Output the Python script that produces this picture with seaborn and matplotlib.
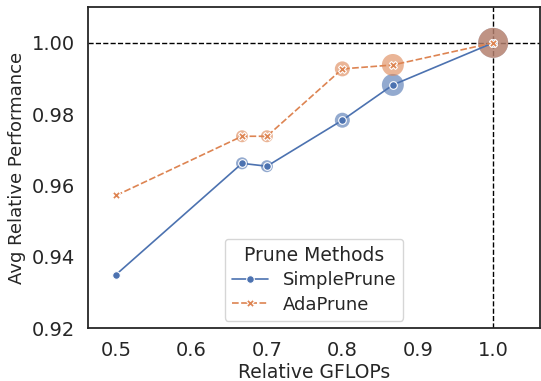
import matplotlib
matplotlib.use("Agg")
import matplotlib.pyplot as plt
import seaborn as sns
import pandas as pd

gflops = [0.5, 0.667, 0.7, 0.8, 0.867, 1.0]
simple_perf = [0.935, 0.9662, 0.9654, 0.9783, 0.9882, 1.0]
ada_perf = [0.9572, 0.9738, 0.9738, 0.9927, 0.9938, 1.0]
bubble_area = [0, 75, 75, 117, 250, 466]
methods = ["SimplePrune", "AdaPrune"]
xticks = [0.5, 0.6, 0.7, 0.8, 0.9, 1.0]
yticks = [0.92, 0.94, 0.96, 0.98, 1.00]

df = pd.DataFrame({
    "Relative GFLOPs": gflops * 2,
    "Avg Relative Performance": simple_perf + ada_perf,
    "Prune Methods": [methods[0]] * len(gflops) + [methods[1]] * len(gflops),
    "area": bubble_area * 2,
})

sns.set_theme(style="white")
plt.rcParams["font.family"] = ["DejaVu Sans"]
palette = sns.color_palette("deep", 2)

fig = plt.figure(figsize=(5.41, 3.81), dpi=100)
ax = fig.add_axes([0.163, 0.139, 0.835, 0.843])

sns.scatterplot(data=df, x="Relative GFLOPs", y="Avg Relative Performance",
                hue="Prune Methods", hue_order=methods, palette=palette,
                size="area", sizes=(0, 466), size_norm=(0, 466),
                alpha=0.6, linewidth=0, legend=False, ax=ax, zorder=2)

sns.lineplot(data=df, x="Relative GFLOPs", y="Avg Relative Performance",
             hue="Prune Methods", style="Prune Methods", hue_order=methods,
             style_order=methods, palette=palette, markers=["o", "X"],
             dashes=True, markersize=5.5, markeredgecolor="white",
             markeredgewidth=0.8, linewidth=1.2, ax=ax, zorder=3)

ax.axhline(1.0, color="black", linestyle="--", linewidth=1.0, zorder=1)
ax.axvline(1.0, color="black", linestyle="--", linewidth=1.0, zorder=1)

ax.set_xlim(0.463, 1.062)
ax.set_ylim(0.92, 1.0101)
ax.set_xticks(xticks)
ax.set_yticks(yticks)
ax.set_xticklabels([f"{v:.1f}" for v in xticks])
ax.set_yticklabels([f"{v:.2f}" for v in yticks])
ax.tick_params(labelsize=14, colors="#262626")
ax.set_xlabel("Relative GFLOPs", fontsize=13.5, labelpad=2)
ax.set_ylabel("Avg Relative Performance", fontsize=13)
for s in ax.spines.values():
    s.set_color("#262626")
    s.set_linewidth(1.3)

leg = ax.legend(title="Prune Methods", loc="lower center", fontsize=13,
                title_fontsize=13.5, frameon=True, labelspacing=0.35,
                borderaxespad=0.4)

fig.savefig("out.png", dpi=100)
